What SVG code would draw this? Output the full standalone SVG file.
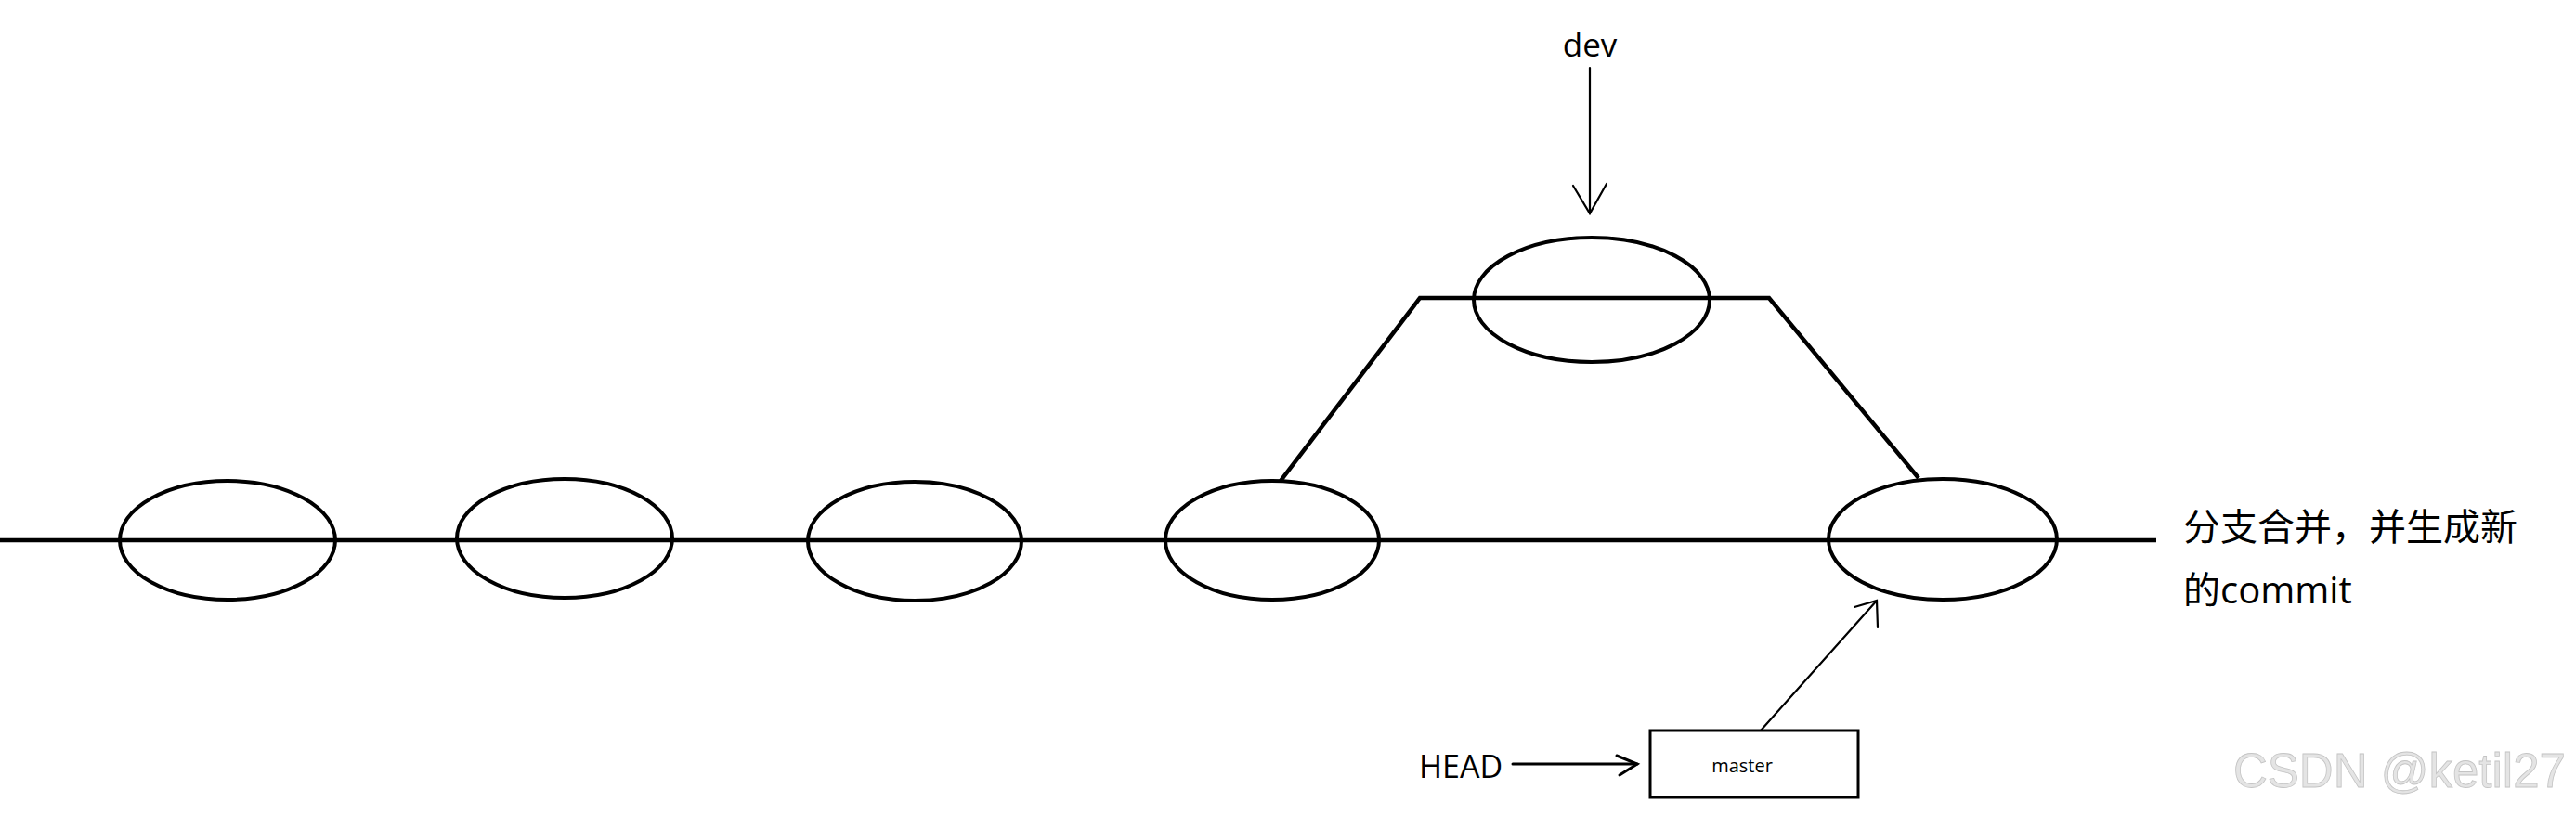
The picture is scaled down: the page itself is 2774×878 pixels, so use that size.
<svg xmlns="http://www.w3.org/2000/svg" width="2774" height="878" viewBox="0 0 2774 878">
<style>
.bg{fill:#ffffff}
.commit{fill:none;stroke:#000;stroke-width:4}
.thick{fill:none;stroke:#000;stroke-width:4.5;stroke-linejoin:miter}
.thin{fill:none;stroke:#000;stroke-width:2.2;stroke-linecap:round}
.mid{fill:none;stroke:#000;stroke-width:3;stroke-linecap:round}
.box{fill:#fff;stroke:#000;stroke-width:3}
.lbl{font-family:"Open Sans","Noto Sans CJK SC",sans-serif;fill:#000}
.wm{font-family:"Liberation Sans",Arial,sans-serif;font-size:51px;fill:#e4e4e4;stroke:#c4c4c4;stroke-width:0.8}
</style>
<rect class="bg" x="0" y="0" width="2774" height="878"/>
<g id="connectors">
  <line class="thick" x1="0" y1="582" x2="2322" y2="582"/>
  <path class="thick" d="M1379,518 L1529,321 L1905,321 L2066,515"/>
  <g id="dev-arrow">
    <line class="thin" x1="1712" y1="73" x2="1712" y2="230"/>
    <polyline class="thin" points="1694,200 1712,230 1730,198"/>
  </g>
  <g id="master-arrow">
    <line class="thin" x1="1896" y1="787" x2="2021" y2="647"/>
    <polyline class="thin" points="1997,654 2021,647 2022,676"/>
  </g>
  <g id="head-arrow">
    <line class="mid" x1="1629" y1="823" x2="1763" y2="823"/>
    <polyline class="mid" points="1741,814 1763,823 1744,835"/>
  </g>
</g>
<g id="c1"><ellipse class="commit" cx="245" cy="582" rx="116" ry="64"/></g>
<g id="c2"><ellipse class="commit" cx="608" cy="580" rx="116" ry="64"/></g>
<g id="c3"><ellipse class="commit" cx="985" cy="583" rx="115" ry="64"/></g>
<g id="c4"><ellipse class="commit" cx="1370" cy="582" rx="115" ry="64"/></g>
<g id="c-merge"><ellipse class="commit" cx="2092" cy="581" rx="123" ry="65"/></g>
<g id="c-dev"><ellipse class="commit" cx="1714" cy="323" rx="127" ry="67"/></g>
<g id="dev-label"><text class="lbl" x="1712" y="61" font-size="35" text-anchor="middle">dev</text></g>
<g id="head-label"><text class="lbl" x="1528" y="838" font-size="34">HEAD</text></g>
<g id="master">
  <rect class="box" x="1777" y="787" width="224" height="72"/>
  <text class="lbl" x="1876" y="832" font-size="20" text-anchor="middle">master</text>
</g>
<g id="merge-note">
  <text class="lbl" x="2351" y="582" font-size="40">分支合并，并生成新</text>
  <text class="lbl" x="2351" y="650" font-size="40">的commit</text>
</g>
<text class="wm" x="2405" y="848">CSDN @ketil27</text>
</svg>
